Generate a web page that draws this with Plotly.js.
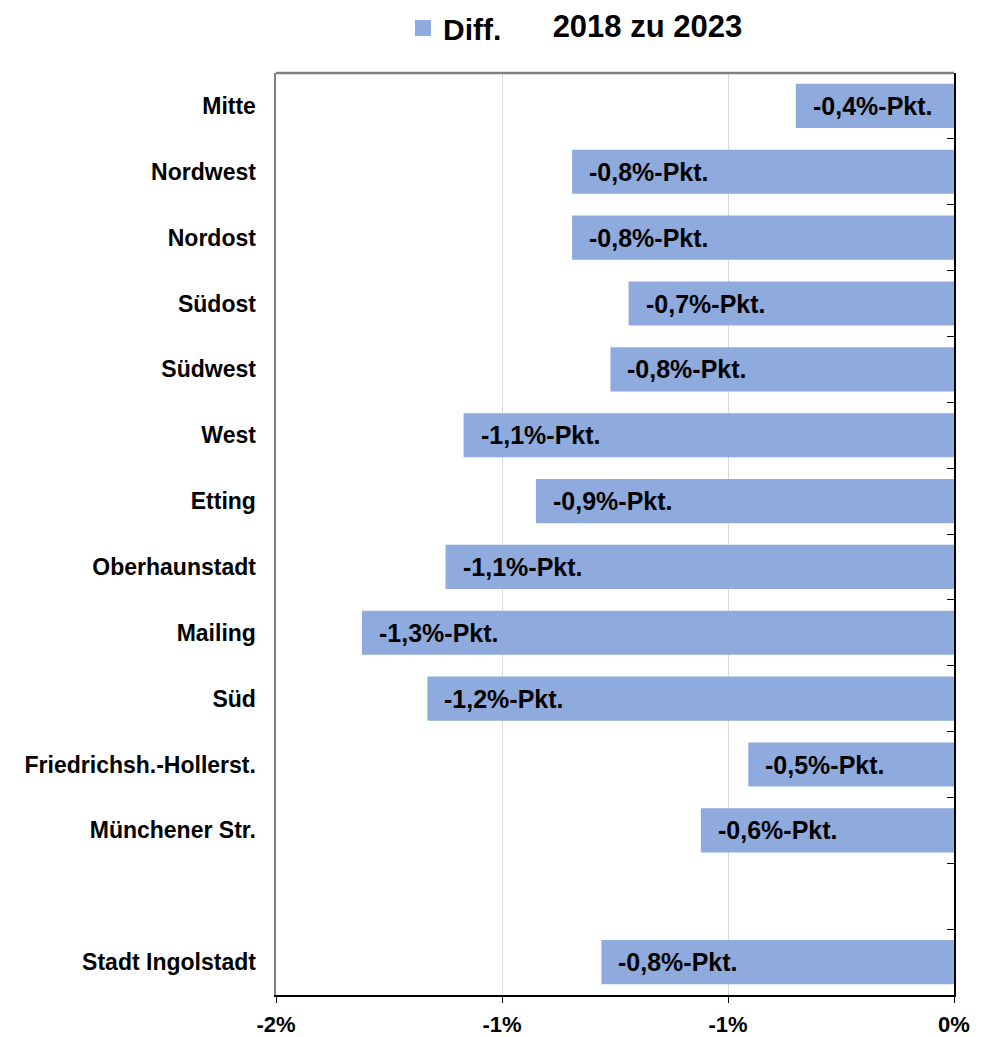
<!DOCTYPE html>
<html>
<head>
<meta charset="utf-8">
<script src="https://cdn.plot.ly/plotly-3.0.1.min.js"></script>
<style>html,body{margin:0;padding:0;background:#fff;}#chart{width:993px;height:1037px;}</style>
</head>
<body>
<div id="chart"></div>
<script>
const categories = ["Mitte","Nordwest","Nordost","Südost","Südwest","West","Etting","Oberhaunstadt","Mailing","Süd","Friedrichsh.-Hollerst.","Münchener Str."," ","Stadt Ingolstadt"];
const diffValues = [-0.35,-0.845,-0.845,-0.72,-0.76,-1.085,-0.925,-1.125,-1.31,-1.165,-0.455,-0.56,null,-0.78];
const diffLabels = ["-0,4%-Pkt.","-0,8%-Pkt.","-0,8%-Pkt.","-0,7%-Pkt.","-0,8%-Pkt.","-1,1%-Pkt.","-0,9%-Pkt.","-1,1%-Pkt.","-1,3%-Pkt.","-1,2%-Pkt.","-0,5%-Pkt.","-0,6%-Pkt.","","-0,8%-Pkt."];
const xTickVals = [-1.5,-1,-0.5,0];
const xTickText = ["-2%","-1%","-1%","0%"];
const seriesName = "Diff.";
const chartTitle = "2018 zu 2023";

const FONT = "Liberation Sans, Arial, sans-serif";
const barColor = "#8FAADC";

const traces = [
  {
    type: "bar", orientation: "h",
    x: diffValues, y: categories,
    name: seriesName, showlegend: false,
    marker: {color: barColor, line: {width: 0}},
    width: 0.67,
    hoverinfo: "x+y",
    xaxis: "x", yaxis: "y"
  },
  {
    type: "bar", orientation: "h",
    x: diffValues, y: categories,
    showlegend: false, opacity: 0, hoverinfo: "skip",
    marker: {color: barColor},
    width: 0.67,
    xaxis: "x", yaxis: "y2"
  },
  {
    type: "scatter", mode: "markers",
    x: [null], y: [null],
    name: seriesName, showlegend: true,
    marker: {symbol: "square", size: 18, color: barColor},
    xaxis: "x", yaxis: "y"
  }
];

const annotations = categories.map((c, i) => ({
  x: diffValues[i] === null ? 0 : diffValues[i],
  y: c, xref: "x", yref: "y",
  text: diffLabels[i], showarrow: false,
  xanchor: "left", yanchor: "middle", xshift: 15,
  font: {family: FONT, size: 25, color: "#000", weight: "bold"}
})).filter((a, i) => diffLabels[i] !== "");

const yRange = [categories.length - 0.5, -0.5];

const layout = {
  width: 993, height: 1037,
  margin: {l: 276, r: 39, t: 73, b: 42, autoexpand: false},
  paper_bgcolor: "#fff", plot_bgcolor: "#fff",
  showlegend: true,
  legend: {
    orientation: "h", x: 0.1873, xanchor: "left", y: (995 - 28) / 922, yanchor: "middle",
    font: {family: FONT, size: 30, color: "#000", weight: "bold"},
    itemwidth: 30, bgcolor: "rgba(0,0,0,0)"
  },
  title: {
    text: chartTitle, x: 0.652, xanchor: "center", y: 1 - 26/1037, yanchor: "middle",
    font: {family: FONT, size: 31, color: "#000", weight: "bold"}
  },
  xaxis: {
    range: [-1.5, 0], tickvals: xTickVals, ticktext: xTickText,
    showgrid: true, gridcolor: "#d9d9d9", gridwidth: 1,
    zeroline: false,
    showline: true, linecolor: "#000", linewidth: 1.5,
    ticks: "outside", ticklen: 6, tickcolor: "#000",
    ticklabelstandoff: 3,
    tickfont: {family: FONT, size: 22, color: "#000", weight: "bold"},
    fixedrange: true
  },
  yaxis: {
    type: "category", categoryorder: "array", categoryarray: categories,
    range: yRange,
    showgrid: false, zeroline: false,
    showline: true, linecolor: "#808080", linewidth: 2.5,
    ticks: "", ticklabelstandoff: 13,
    tickfont: {family: FONT, size: 23, color: "#000", weight: "bold"},
    fixedrange: true
  },
  yaxis2: {
    type: "category", categoryorder: "array", categoryarray: categories,
    range: yRange, overlaying: "y", side: "right",
    showgrid: false, zeroline: false, showticklabels: false,
    showline: true, linecolor: "#000", linewidth: 1.5,
    ticks: "inside", tickson: "boundaries", ticklen: 7, tickcolor: "#000",
    fixedrange: true
  },
  shapes: [
    {type: "line", xref: "paper", yref: "paper", x0: 0, x1: 1, y0: 1, y1: 1,
     line: {color: "#808080", width: 2.5}, layer: "above"}
  ],
  annotations: annotations,
  bargap: 0.33
};

Plotly.newPlot("chart", traces, layout, {displayModeBar: false, staticPlot: true});
</script>
</body>
</html>
